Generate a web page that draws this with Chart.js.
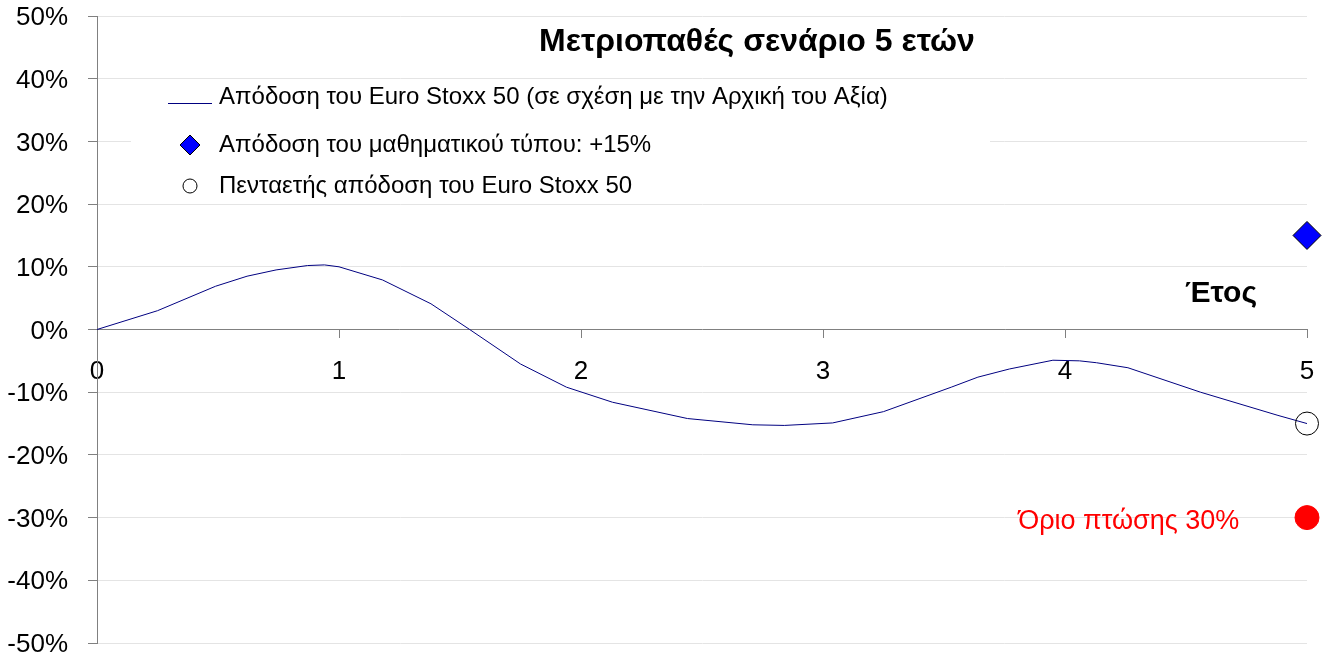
<!DOCTYPE html>
<html>
<head>
<meta charset="utf-8">
<script src="https://cdn.jsdelivr.net/npm/chart.js@4.4.1/dist/chart.umd.min.js"></script>
<style>
  html, body { margin: 0; padding: 0; background: #fff; }
  #wrap { width: 1327px; height: 659px; }
</style>
</head>
<body>
<div id="wrap"><canvas id="chart"></canvas></div>
<script>
// έτη και απόδοση του δείκτη (%)
const years = [0, 0.25, 0.49, 0.62, 0.74, 0.87, 0.94, 1.0, 1.18, 1.38, 1.54, 1.75, 1.94, 2.13, 2.44, 2.71, 2.84, 3.04, 3.25, 3.53, 3.64, 3.77, 3.95, 4.06, 4.13, 4.26, 4.56, 4.88, 5.0];
const returns = [0, 3.0, 6.9, 8.5, 9.5, 10.2, 10.3, 10.0, 7.9, 4.1, 0, -5.5, -9.2, -11.6, -14.2, -15.2, -15.3, -14.9, -13.1, -9.2, -7.6, -6.3, -4.9, -5.0, -5.3, -6.1, -10.0, -13.7, -15.0];

const finalYear = 5;
const formulaReturn = 15;
const fiveYearReturn = -15;
const barrier = -30;

const yMin = -50, yMax = 50, yStep = 10;
const xMin = 0, xMax = 5, xStep = 1;

const labels = [
  'Απόδοση του Euro Stoxx 50 (σε σχέση με την Αρχική του Αξία)',
  'Απόδοση του μαθηματικού τύπου: +15%',
  'Πενταετής απόδοση του Euro Stoxx 50',
];

const FONT = '"Liberation Sans", Arial, sans-serif';

const lineData = years.map((y, i) => ({ x: y, y: returns[i] }));

// τίτλος, υπόμνημα και κείμενα
const extras = {
  id: 'extras',
  beforeDatasetsDraw(chart) {
    const ctx = chart.ctx;
    ctx.save();
    // λευκό πλαίσιο υπομνήματος πάνω από τις γραμμές πλέγματος
    ctx.fillStyle = '#fff';
    ctx.fillRect(131, 83, 859, 120);
    ctx.restore();
  },
  afterDatasetsDraw(chart) {
    const ctx = chart.ctx;
    const xs = chart.scales.x;
    const ys = chart.scales.y;
    ctx.save();

    ctx.fillStyle = '#000';
    ctx.textAlign = 'center';
    ctx.textBaseline = 'middle';
    ctx.font = 'bold 32px ' + FONT;
    ctx.fillText('Μετριοπαθές σενάριο 5 ετών', 757, 42);

    // υπόμνημα
    ctx.font = '24px ' + FONT;
    ctx.textAlign = 'left';
    ctx.strokeStyle = '#000080';
    ctx.lineWidth = 1;
    ctx.beginPath();
    ctx.moveTo(168, 103.5);
    ctx.lineTo(212, 103.5);
    ctx.stroke();
    ctx.fillText(labels[0], 219, 97);

    ctx.fillStyle = '#0000ff';
    ctx.strokeStyle = '#000';
    ctx.beginPath();
    ctx.moveTo(180, 145); ctx.lineTo(190, 135); ctx.lineTo(200, 145); ctx.lineTo(190, 155);
    ctx.closePath();
    ctx.fill(); ctx.stroke();
    ctx.fillStyle = '#000';
    ctx.fillText(labels[1], 219, 145);

    ctx.beginPath();
    ctx.arc(190, 186, 7, 0, Math.PI * 2);
    ctx.stroke();
    ctx.fillText(labels[2], 219, 186);

    // τίτλος άξονα x
    ctx.font = 'bold 30px ' + FONT;
    ctx.textAlign = 'right';
    ctx.fillText('Έτος', 1257, 294);

    // όριο πτώσης
    ctx.fillStyle = '#ff0000';
    ctx.font = '27px ' + FONT;
    ctx.fillText('Όριο πτώσης 30%', xs.getPixelForValue(4.72), ys.getPixelForValue(barrier) + 4);

    ctx.restore();
  }
};

new Chart(document.getElementById('chart'), {
  type: 'scatter',
  data: {
    datasets: [
      {
        label: labels[1],
        data: [{ x: finalYear, y: formulaReturn }],
        pointStyle: 'rectRot',
        pointRadius: 14,
        backgroundColor: '#0000ff',
        borderColor: '#000',
        borderWidth: 1,
        clip: false,
      },
      {
        label: labels[2],
        data: [{ x: finalYear, y: fiveYearReturn }],
        pointStyle: 'circle',
        pointRadius: 11.5,
        backgroundColor: 'rgba(0,0,0,0)',
        borderColor: '#000',
        borderWidth: 1,
        clip: false,
      },
      {
        label: 'Όριο πτώσης 30%',
        data: [{ x: finalYear, y: barrier }],
        pointStyle: 'circle',
        pointRadius: 12,
        backgroundColor: '#ff0000',
        borderColor: '#ff0000',
        borderWidth: 1,
        clip: false,
      },
      {
        label: labels[0],
        type: 'line',
        data: lineData,
        borderColor: '#000080',
        borderWidth: 1,
        pointRadius: 0,
        tension: 0,
        fill: false,
        clip: false,
      },
    ],
  },
  options: {
    responsive: true,
    maintainAspectRatio: false,
    animation: false,
    layout: { padding: { top: 16, bottom: 16, left: 0, right: 20 } },
    plugins: {
      legend: { display: false },
      tooltip: { enabled: false },
      title: { display: false },
    },
    scales: {
      x: {
        type: 'linear',
        position: { y: 0 },
        min: xMin,
        max: xMax,
        ticks: {
          stepSize: xStep,
          color: '#000',
          font: { family: FONT, size: 26 },
          padding: 19,
          maxRotation: 0,
        },
        grid: {
          drawOnChartArea: false,
          tickLength: 8,
          tickColor: '#808080',
        },
        border: { color: '#808080', width: 1 },
        afterFit(scale) {
          scale.paddingLeft = 0;
          scale.paddingRight = 0;
        },
      },
      y: {
        min: yMin,
        max: yMax,
        ticks: {
          stepSize: yStep,
          color: '#000',
          font: { family: FONT, size: 26 },
          padding: 20,
          labelOffset: 2,
          callback: (v) => v + '%',
        },
        grid: {
          color: '#e4e4e4',
          tickLength: 9,
          tickColor: '#808080',
        },
        border: { color: '#808080', width: 1 },
        afterFit(scale) {
          scale.width = 97;
          scale.paddingTop = 0;
          scale.paddingBottom = 0;
        },
      },
    },
  },
  plugins: [extras],
});
</script>
</body>
</html>
